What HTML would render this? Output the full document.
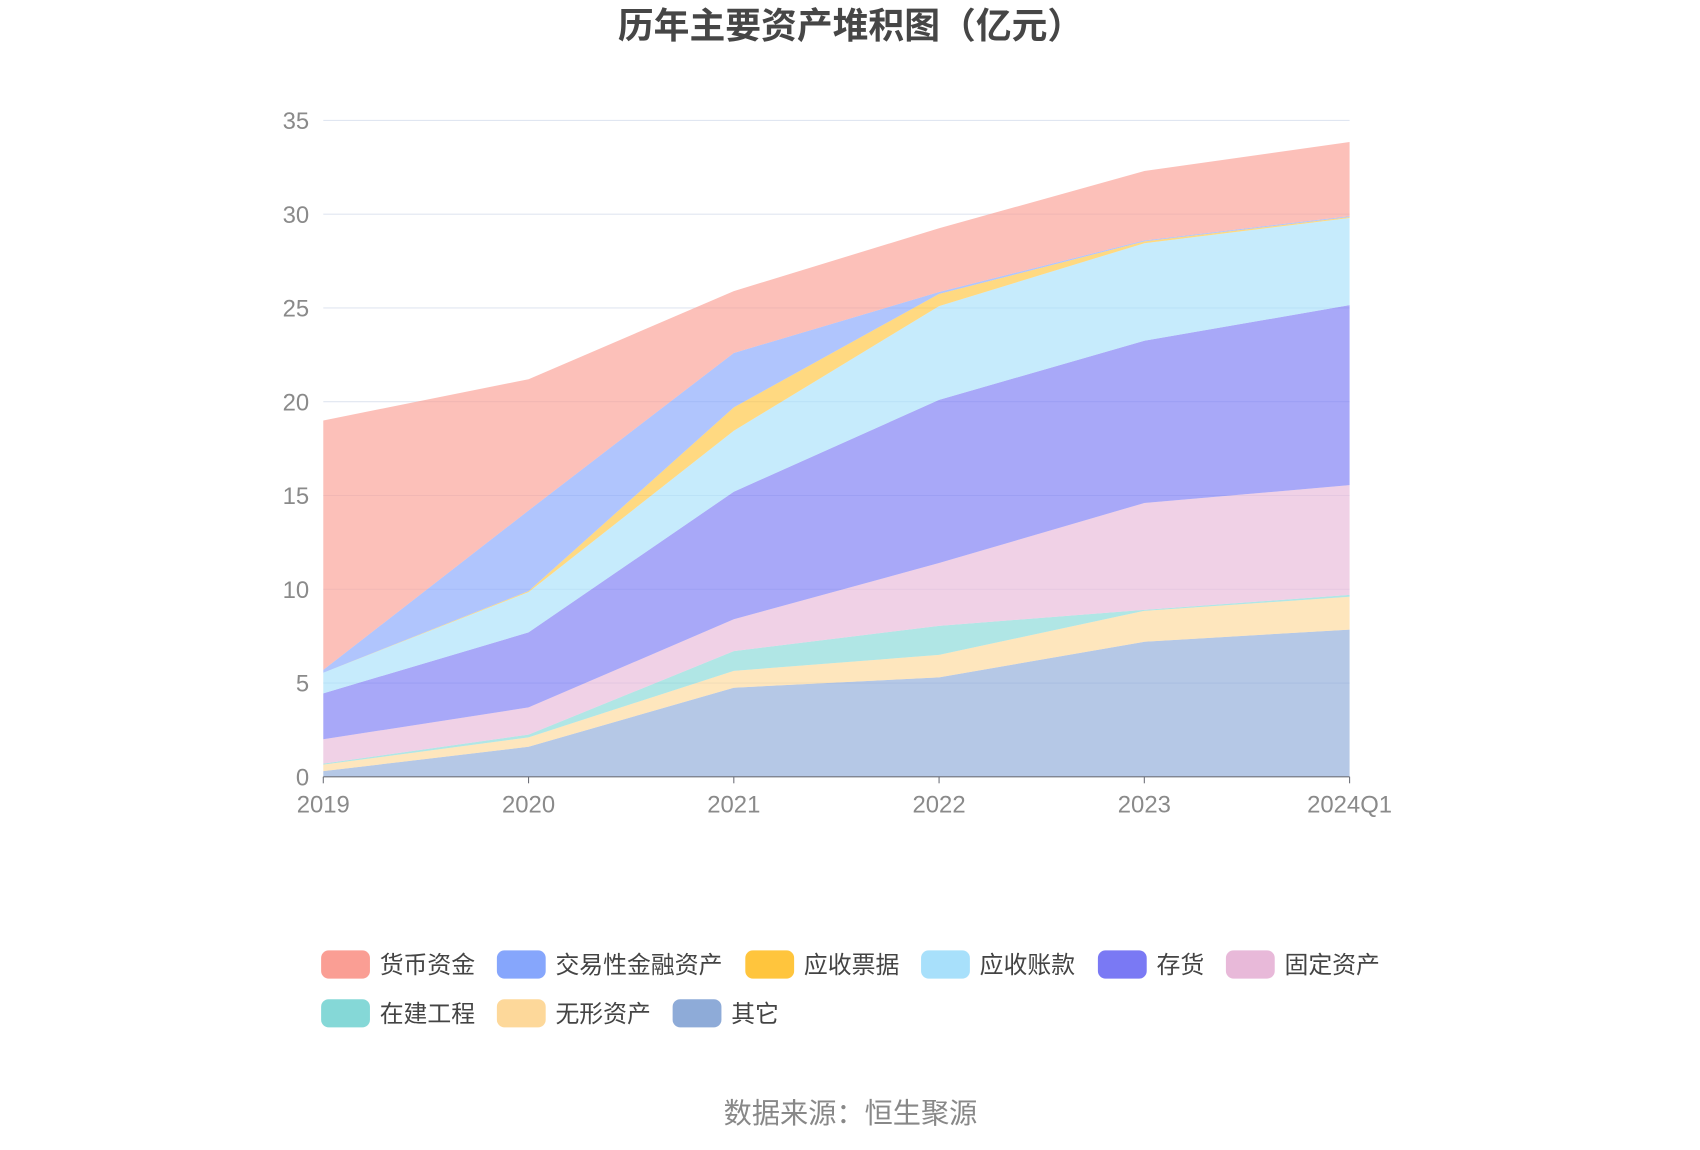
<!DOCTYPE html>
<html><head><meta charset="utf-8"><style>
html,body{margin:0;padding:0;background:#fff;}
svg{display:block;font-family:"Liberation Sans","Noto Sans CJK SC",sans-serif;}
</style></head><body>
<svg id="chart" width="1700" height="1150" viewBox="0 0 1567 1060" preserveAspectRatio="none" xmlns="http://www.w3.org/2000/svg">
<text x="784" y="35" text-anchor="middle" font-size="33" font-weight="bold" fill="#464646">历年主要资产堆积图（亿元）</text>
<g id="grid"></g>
<g id="areas"></g>
<g id="axes"></g>
<g id="legend"></g>
<text x="784" y="1035" text-anchor="middle" font-size="26" fill="#888">数据来源：恒生聚源</text>
</svg>
<script>
const categories=["2019","2020","2021","2022","2023","2024Q1"];
const yTicks=[0,5,10,15,20,25,30,35];
const seriesNames=["其它","无形资产","在建工程","固定资产","存货","应收账款","应收票据","交易性金融资产","货币资金"];
const other=[0.3,1.6,4.75,5.3,7.2,7.85];
const intangible=[0.35,0.5,0.9,1.2,1.65,1.75];
const construction=[0.05,0.15,1.05,1.55,0.05,0.1];
const fixedAssets=[1.3,1.45,1.7,3.35,5.7,5.85];
const inventory=[2.45,4.0,6.8,8.7,8.65,9.6];
const receivables=[1.1,2.15,3.25,5.0,5.2,4.65];
const notesReceivable=[0,0.05,1.25,0.65,0.1,0.05];
const tradingAssets=[0.15,4.3,2.9,0.1,0.05,0.05];
const cash=[13.3,7.0,3.3,3.4,3.7,3.95];
const seriesValues=[other,intangible,construction,fixedAssets,inventory,receivables,notesReceivable,tradingAssets,cash];
const colors=["#8eabd8","#fdd89a","#85d8d7","#e8b9d9","#7a79f4","#a8e0fb","#ffc53d","#86a6fc","#fa9e94"];
const seriesIds=["other","intangible","construction","fixed-assets","inventory","receivables","notes-receivable","trading-assets","cash"];
const NS="http://www.w3.org/2000/svg";
const x0=298,x1=1244,yBase=716,yTop=111,yMax=35;
const xs=i=>x0+i*(x1-x0)/(categories.length-1);
const ys=v=>yBase-v*(yBase-yTop)/yMax;
function mk(tag,attrs,parent){const e=document.createElementNS(NS,tag);for(const k in attrs)e.setAttribute(k,attrs[k]);parent.appendChild(e);return e;}
const grid=document.getElementById('grid'),axes=document.getElementById('axes'),areas=document.getElementById('areas'),legend=document.getElementById('legend');
yTicks.forEach(t=>{
  if(t>0){const l=mk('line',{x1:x0,x2:x1,y1:ys(t),y2:ys(t),stroke:'#e0e6f1','stroke-width':1},grid);
  
  }
  const tx=mk('text',{x:285,y:ys(t)+8,'text-anchor':'end','font-size':22,fill:'#8a8a8a'},axes);
  tx.textContent=t;
  
  
});
let cum=categories.map(()=>0);
seriesValues.forEach((vals,s)=>{
  const lower=cum.slice();
  cum=cum.map((c,i)=>c+vals[i]);
  let d='M'+categories.map((_,i)=>xs(i)+','+ys(cum[i])).join('L');
  for(let i=categories.length-1;i>=0;i--)d+='L'+xs(i)+','+ys(lower[i]);
  d+='Z';
  const p=mk('path',{d:d,fill:colors[s],'fill-opacity':0.65,stroke:'none'},areas);
  
  
});
const ax=mk('line',{x1:x0,x2:x1,y1:yBase,y2:yBase,stroke:'#6e7079','stroke-width':1},axes);


categories.forEach((c,i)=>{
  mk('line',{x1:xs(i),x2:xs(i),y1:yBase,y2:yBase+6,stroke:'#6e7079'},axes);
  const tx=mk('text',{x:xs(i),y:749,'text-anchor':'middle','font-size':22,fill:'#8a8a8a'},axes);
  tx.textContent=c;
  
  
});
const legendOrder=[8,7,6,5,4,3,2,1,0];
const legendPos=[[296,876],[458,876],[687,876],[849,876],[1012,876],[1130,876],[296,921],[458,921],[620,921]];
legendOrder.forEach((s,k)=>{
  const g=mk('g',{},legend);
  
  
  const [lx,ly]=legendPos[k];
  mk('rect',{x:lx,y:ly,width:45,height:26,rx:7,fill:colors[s]},g);
  const t=mk('text',{x:lx+54,y:ly+21,'font-size':22,fill:'#444'},g);
  t.textContent=seriesNames[s];
});
</script>
</body></html>
